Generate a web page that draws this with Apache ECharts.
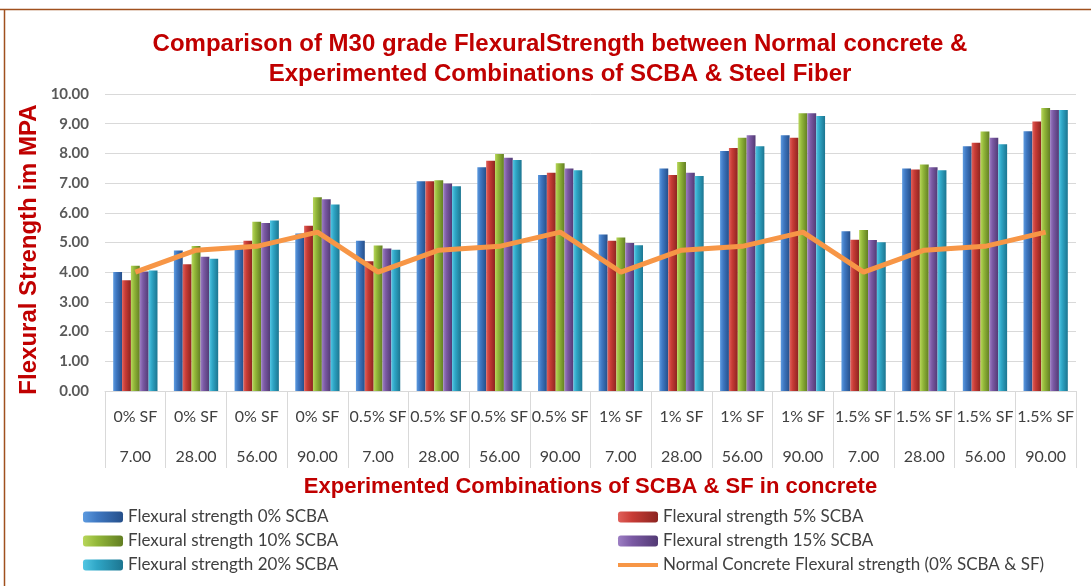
<!DOCTYPE html>
<html>
<head>
<meta charset="utf-8">
<script src="https://cdn.jsdelivr.net/npm/echarts@6/dist/echarts.min.js"></script>
<style>
  html, body { margin: 0; padding: 0; background: #fff; }
  #chart { width: 1091px; height: 586px; }
</style>
</head>
<body>
<div id="chart"></div>
<script>
// categories: steel fibre % and curing age (days)
var fibre = ['0% SF','0% SF','0% SF','0% SF','0.5% SF','0.5% SF','0.5% SF','0.5% SF',
             '1% SF','1% SF','1% SF','1% SF','1.5% SF','1.5% SF','1.5% SF','1.5% SF'];
var days = ['7.00','28.00','56.00','90.00','7.00','28.00','56.00','90.00',
            '7.00','28.00','56.00','90.00','7.00','28.00','56.00','90.00'];

var scba0  = [4.01,4.73,4.85,5.30, 5.06,7.06,7.53,7.27, 5.27,7.49,8.08,8.61, 5.38,7.49,8.24,8.75];
var scba5  = [3.73,4.27,5.06,5.56, 4.37,7.06,7.75,7.35, 5.06,7.27,8.18,8.53, 5.09,7.46,8.36,9.07];
var scba10 = [4.22,4.88,5.70,6.52, 4.90,7.10,7.98,7.67, 5.17,7.71,8.53,9.35, 5.42,7.63,8.74,9.53];
var scba15 = [4.02,4.52,5.66,6.46, 4.80,6.99,7.85,7.49, 4.98,7.35,8.61,9.35, 5.08,7.53,8.53,9.46];
var scba20 = [4.06,4.45,5.74,6.28, 4.76,6.89,7.78,7.43, 4.91,7.24,8.24,9.26, 5.01,7.43,8.31,9.46];
var normal = [4.00,4.74,4.87,5.35, 4.00,4.74,4.87,5.35, 4.00,4.74,4.87,5.35, 4.00,4.74,4.87,5.35];

var yTicks = ['0.00','1.00','2.00','3.00','4.00','5.00','6.00','7.00','8.00','9.00','10.00'];

var names = ['Flexural strength 0% SCBA','Flexural strength 5% SCBA','Flexural strength 10% SCBA',
             'Flexural strength 15% SCBA','Flexural strength 20% SCBA',
             'Normal Concrete Flexural strength (0% SCBA & SF)'];

function bevel(light, base, dark) {
  return new echarts.graphic.LinearGradient(0, 0, 1, 0, [
    { offset: 0, color: light },
    { offset: 0.35, color: base },
    { offset: 1, color: dark }
  ]);
}

var barColors = [
  bevel('#5d9be0', '#3f78c2', '#254f8a'),
  bevel('#e0605a', '#c83c36', '#8c2420'),
  bevel('#b8d65a', '#93b83a', '#627e22'),
  bevel('#9d7fc4', '#7b5aa4', '#523a74'),
  bevel('#52c6e3', '#2fa6c6', '#1c7590')
];

function barSeries(i, data) {
  return {
    name: names[i],
    type: 'bar',
    data: data,
    barGap: '0%',
    barCategoryGap: '27%',
    itemStyle: { color: barColors[i] }
  };
}

var labelFont = 'Lato, "Open Sans", sans-serif';
var lineIcon = 'path://M0,0 L40,0 L40,4 L0,4 Z';

function legendBox(left, items) {
  return {
    orient: 'vertical',
    left: left,
    top: 507,
    padding: 0,
    itemWidth: 40,
    itemHeight: 11,
    itemGap: 4,
    data: items,
    textStyle: { color: '#404040', fontSize: 17, lineHeight: 20, fontFamily: labelFont }
  };
}

var myChart = echarts.init(document.getElementById('chart'));
myChart.setOption({
  animation: false,
  backgroundColor: '#fff',
  title: {
    text: 'Comparison of M30 grade FlexuralStrength between Normal concrete &\nExperimented Combinations of SCBA & Steel Fiber',
    left: 555,
    textAlign: 'center',
    top: 24,
    textStyle: {
      color: '#c00000',
      fontFamily: '"Liberation Sans", Arial, sans-serif',
      fontWeight: 'bold',
      fontSize: 24,
      lineHeight: 30
    }
  },
  graphic: [
    { type: 'line', shape: { x1: 0, y1: 9.5, x2: 1091, y2: 9.5 }, style: { stroke: '#a0501e', lineWidth: 1.5 } },
    { type: 'line', shape: { x1: 4.5, y1: 9, x2: 4.5, y2: 586 }, style: { stroke: '#a0501e', lineWidth: 1.5 } }
  ],
  legend: [
    legendBox(83, [names[0], names[2], names[4]]),
    legendBox(618, [names[1], names[3], { name: names[5], icon: lineIcon }])
  ],
  grid: { left: 105, right: 15, top: 94, bottom: 195 },
  xAxis: {
    type: 'category',
    data: fibre,
    name: 'Experimented Combinations of SCBA & SF in concrete',
    nameLocation: 'middle',
    nameGap: 85,
    nameMoveOverlap: false,
    nameTextStyle: {
      color: '#c00000',
      fontFamily: '"Liberation Sans", Arial, sans-serif',
      fontWeight: 'bold',
      fontSize: 22
    },
    axisLine: { lineStyle: { color: '#d9d9d9' } },
    axisTick: { show: true, interval: 0, length: 77, lineStyle: { color: '#d9d9d9' } },
    axisLabel: {
      interval: 0,
      margin: 6,
      color: '#404040',
      fontFamily: labelFont,
      fontSize: 16,
      lineHeight: 40,
      formatter: function (v, idx) { return v + '\n' + days[idx]; }
    }
  },
  yAxis: {
    type: 'value',
    min: 0,
    max: 10,
    interval: 1,
    name: 'Flexural Strength im MPA',
    nameLocation: 'middle',
    nameGap: 64,
    nameRotate: 90,
    nameMoveOverlap: false,
    nameTextStyle: {
      color: '#c00000',
      fontFamily: '"Liberation Sans", Arial, sans-serif',
      fontWeight: 'bold',
      fontSize: 24,
      padding: [0, 14, 0, 0]
    },
    axisLine: { show: false },
    axisTick: { show: false },
    splitLine: { lineStyle: { color: '#d9d9d9' } },
    axisLabel: {
      margin: 16,
      color: '#595959',
      fontWeight: 'bold',
      fontFamily: labelFont,
      fontSize: 15,
      formatter: function (v) { return yTicks[Math.round(v)]; }
    }
  },
  series: [
    barSeries(0, scba0),
    barSeries(1, scba5),
    barSeries(2, scba10),
    barSeries(3, scba15),
    barSeries(4, scba20),
    {
      name: names[5],
      type: 'line',
      data: normal,
      symbol: 'none',
      z: 5,
      itemStyle: { color: '#f79646' },
      lineStyle: { color: '#f79646', width: 5 }
    }
  ]
});
</script>
</body>
</html>
